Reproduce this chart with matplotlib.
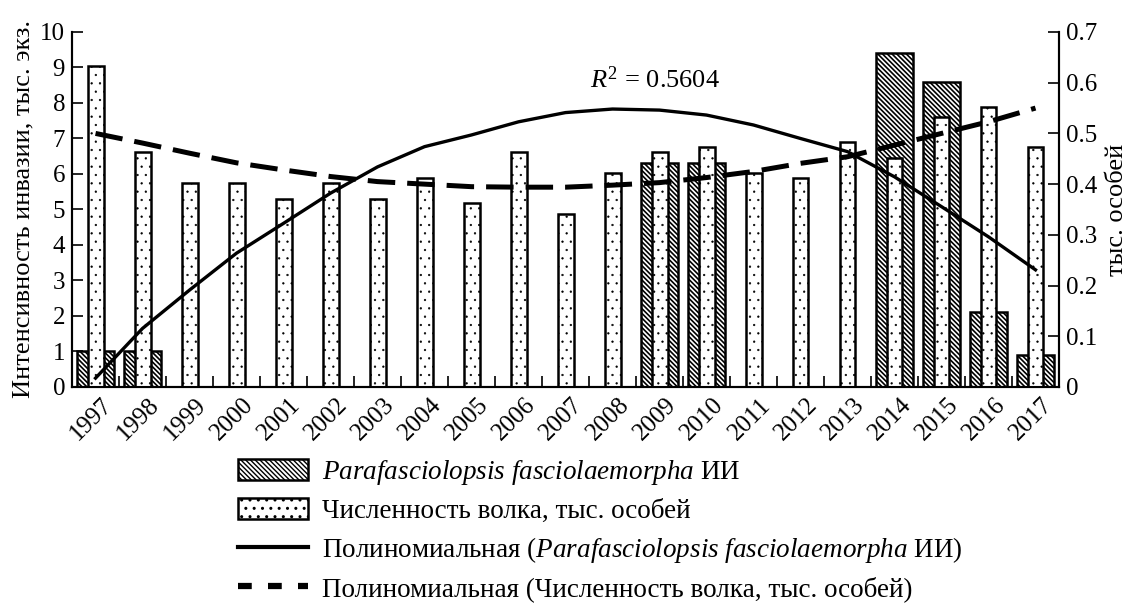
import matplotlib
matplotlib.use("Agg")
import matplotlib.pyplot as plt
from matplotlib.patches import Patch
from matplotlib.lines import Line2D
import numpy as np

plt.rcParams['font.family'] = ['Liberation Serif', 'DejaVu Serif']
plt.rcParams['mathtext.fontset'] = 'custom'
plt.rcParams['mathtext.rm'] = 'Liberation Serif'
plt.rcParams['mathtext.it'] = 'Liberation Serif:italic'

# данные
years = [str(y) for y in range(1997, 2018)]
# интенсивность инвазии Parafasciolopsis fasciolaemorpha, тыс. экз.
invasion = [1.0, 1.0, 0, 0, 0, 0, 0, 0, 0, 0, 0, 0, 6.3, 6.3, 0, 0, 0, 9.4, 8.6, 2.1, 0.9]
# численность волка, тыс. особей
wolves = [0.632, 0.463, 0.402, 0.402, 0.371, 0.402, 0.371, 0.412, 0.362, 0.463, 0.341,
          0.421, 0.463, 0.474, 0.421, 0.412, 0.484, 0.451, 0.532, 0.552, 0.474]
# полиномиальные линии тренда
trend_inv = [0.25, 1.65, 2.73, 3.77, 4.61, 5.46, 6.2, 6.77, 7.1, 7.47, 7.73, 7.83, 7.8,
             7.66, 7.38, 7.0, 6.63, 5.92, 5.08, 4.23, 3.3]
trend_wolf = [0.500, 0.481, 0.461, 0.442, 0.428, 0.415, 0.405, 0.400, 0.395, 0.394, 0.394,
              0.398, 0.403, 0.413, 0.425, 0.441, 0.454, 0.477, 0.500, 0.523, 0.550]
r2_text = r'$R^{2}$ = 0.5604'

HATCH = '\\\\\\\\\\\\\\'
DOTS = '..'

x = np.arange(len(years))

fig = plt.figure(figsize=(11.29, 6.06), dpi=100)
ax = fig.add_axes([0.0638, 0.3614, 0.8742, 0.5858])
ax2 = ax.twinx()

with plt.rc_context({'hatch.linewidth': 1.2}):
    ax.bar(x, invasion, width=0.77, color='white', edgecolor='black', hatch=HATCH,
           linewidth=1.8, zorder=2)
    h_inv = Patch(facecolor='white', edgecolor='black', hatch=HATCH, linewidth=1.8)
with plt.rc_context({'hatch.linewidth': 0.4}):
    ax2.bar(x, wolves, width=0.34, color='white', edgecolor='black', hatch=DOTS,
            linewidth=1.8, zorder=2)
    h_wolf = Patch(facecolor='white', edgecolor='black', hatch=DOTS, linewidth=1.8)

ax2.plot(x, trend_inv, color='black', lw=2.4, transform=ax.transData, zorder=5)
ax2.plot(x, trend_wolf, color='black', lw=3.6, dashes=(5.5, 2.4), zorder=5)

ax.set_xlim(-0.5, len(years) - 0.5)
ax.set_ylim(0, 10)
ax2.set_ylim(0, 0.7)
ax.set_yticks(range(0, 11))
ax2.set_yticks(np.arange(0, 0.71, 0.1))
ax2.set_yticklabels(['0'] + [f'{v:.1f}' for v in np.arange(0.1, 0.71, 0.1)])

ax.set_xticks(x + 0.12)
ax.set_xticklabels(years, rotation=45, ha='right', va='top', rotation_mode='anchor',
                   fontsize=18)
ax.set_xticks(np.arange(-0.5, len(years), 1), minor=True)
ax.tick_params(axis='x', which='major', length=0, pad=5)
ax.tick_params(axis='x', which='minor', direction='in', length=8, width=1.2)
ax.tick_params(axis='y', direction='in', length=8, width=1.2, labelsize=18, pad=5)
ax2.tick_params(axis='y', direction='in', length=8, width=1.2, labelsize=18, pad=5)

for a in (ax, ax2):
    a.spines['top'].set_visible(False)
    for s in ('left', 'right', 'bottom'):
        a.spines[s].set_linewidth(1.5)

ax.set_ylabel('Интенсивность инвазии, тыс. экз.', fontsize=19, labelpad=4)
ax2.set_ylabel('тыс. особей', fontsize=19, labelpad=6)

ax.text(11.9, 8.65, r2_text, fontsize=19, ha='center', va='center')

handles = [
    h_inv,
    h_wolf,
    Line2D([], [], color='black', lw=3),
    Line2D([], [], color='black', lw=4.5, dashes=(2.2, 2.6)),
]
labels = [
    r'$\mathit{Parafasciolopsis\ fasciolaemorpha}$ ИИ',
    'Численность волка, тыс. особей',
    r'Полиномиальная ($\mathit{Parafasciolopsis\ fasciolaemorpha}$ ИИ)',
    'Полиномиальная (Численность волка, тыс. особей)',
]
fig.legend(handles, labels, loc='upper left', bbox_to_anchor=(0.211, 0.2445),
           frameon=False, fontsize=19.5, handlelength=2.58, handleheight=0.85,
           handletextpad=0.5, labelspacing=0.4, borderpad=0, borderaxespad=0)

fig.savefig('out.png', dpi=100)
